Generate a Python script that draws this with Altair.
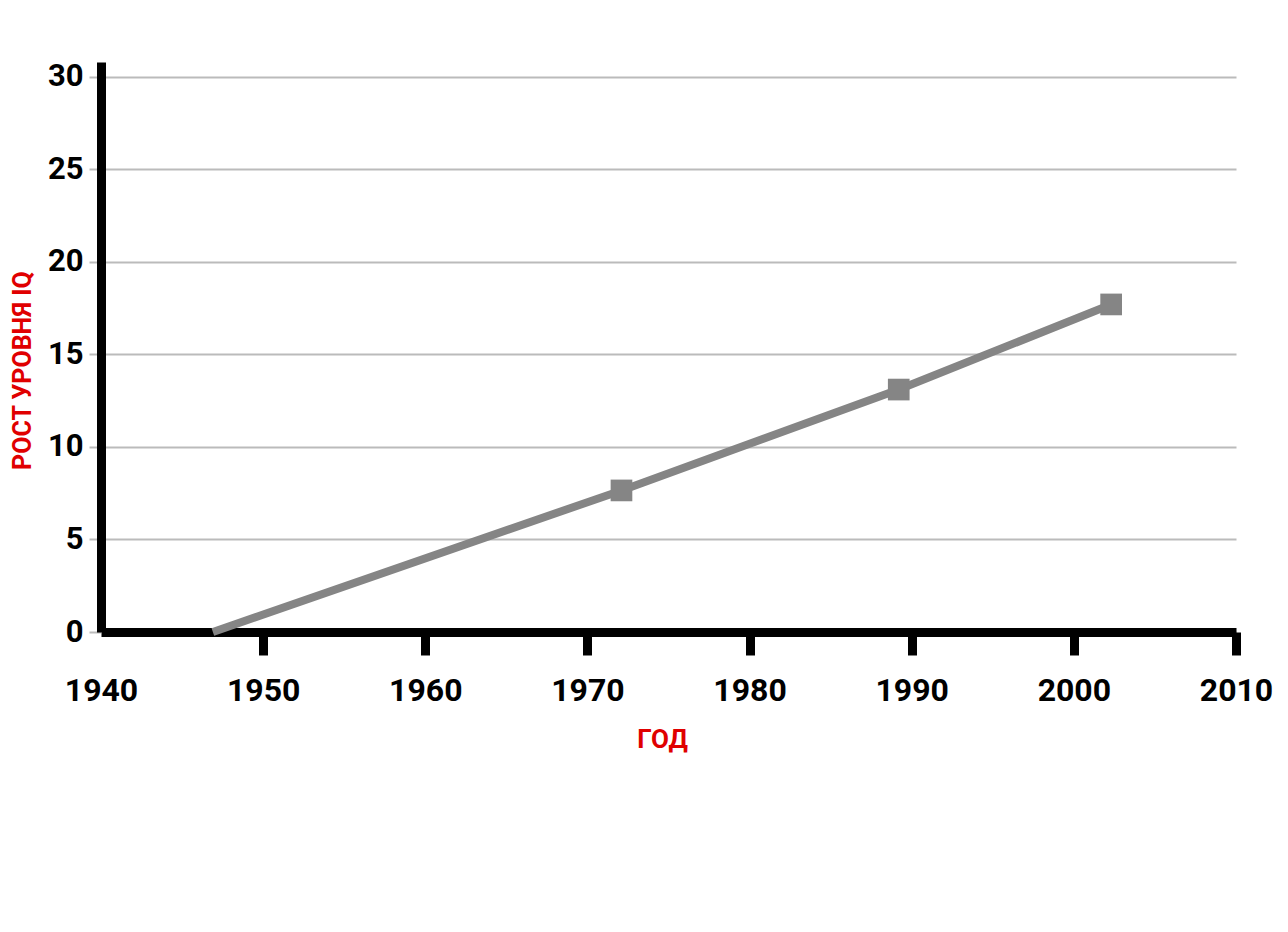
import altair as alt
import pandas as pd

years = [1946.9, 1972.1, 1989.2, 2002.3]
iq_gain = [0.0, 7.65, 13.1, 17.7]
has_marker = [False, True, True, True]

x_ticks = [1940, 1950, 1960, 1970, 1980, 1990, 2000, 2010]
y_ticks = [0, 5, 10, 15, 20, 25, 30]

df = pd.DataFrame({"year": years, "iq": iq_gain, "marker": has_marker})

FONT = "Roboto"

x_enc = alt.X(
    "year:Q",
    scale=alt.Scale(domain=[1940, 2010], nice=False, zero=False),
    axis=alt.Axis(
        values=x_ticks,
        format="d",
        title="ГОД",
        titleColor="#e00000",
        titleFont=FONT,
        titleFontSize=26,
        titleFontWeight="bold",
        titleX=561,
        titleY=107,
        titleAlign="center",
        titleBaseline="middle",
        labelFont=FONT,
        labelFontSize=32,
        labelFontWeight="bold",
        labelColor="#000000",
        labelPadding=20,
        labelFlush=False,
        labelOverlap=False,
        domainColor="#000000",
        domainWidth=9,
        tickColor="#000000",
        tickWidth=9,
        tickSize=23,
        tickOpacity=alt.condition("datum.value == 1940", alt.value(0), alt.value(1)),
        grid=False,
    ),
)

y_enc = alt.Y(
    "iq:Q",
    scale=alt.Scale(domain=[0, 30.8], nice=False),
    axis=alt.Axis(
        values=y_ticks,
        title="РОСТ УРОВНЯ IQ",
        titleColor="#e00000",
        titleFont=FONT,
        titleFontSize=25,
        titleFontWeight="bold",
        titleX=-79,
        titleY=308,
        titleAngle=270,
        titleAlign="center",
        titleBaseline="middle",
        labelFont=FONT,
        labelFontSize=31,
        labelFontWeight="bold",
        labelColor="#000000",
        labelPadding=6,
        labelFlush=False,
        domainColor="#000000",
        domainWidth=9,
        tickColor="#bbbbbb",
        tickWidth=2,
        tickSize=12,
        grid=True,
        gridColor="#bbbbbb",
        gridWidth=2,
    ),
)

line = alt.Chart(df).mark_line(color="#858585", strokeWidth=8, strokeCap="butt").encode(
    x=x_enc, y=y_enc
)

points = (
    alt.Chart(df)
    .transform_filter("datum.marker")
    .mark_square(color="#858585", size=470, opacity=1)
    .encode(x="year:Q", y="iq:Q")
)

chart = (
    alt.layer(line, points)
    .properties(
        width=1135,
        height=570,
        autosize=alt.AutoSizeParams(type="none"),
        padding={"left": 101, "top": 62, "right": 52, "bottom": 300},
        background="#ffffff",
    )
    .configure_view(stroke=None)
)

chart.save("out.html", embed_options={"renderer": "svg", "actions": False})
